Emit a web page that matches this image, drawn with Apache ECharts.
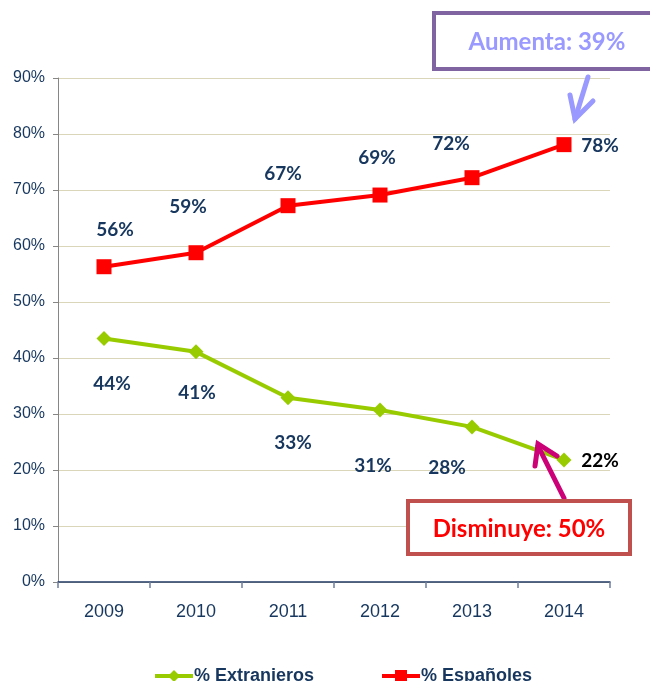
<!DOCTYPE html>
<html>
<head>
<meta charset="utf-8">
<title>Extranjeros / Españoles</title>
<script src="https://cdn.jsdelivr.net/npm/echarts@6/dist/echarts.min.js"></script>
<style>
  html, body { margin: 0; padding: 0; background: #fff; }
  #chart { width: 650px; height: 681px; }
</style>
</head>
<body>
<div id="chart"></div>
<script>
const years = ['2009', '2010', '2011', '2012', '2013', '2014'];
const extranjeros = [43.5, 41.1, 32.9, 30.7, 27.7, 21.8];
const espanoles = [56.3, 58.8, 67.2, 69.1, 72.2, 78.1];
const extranjerosLabels = ['44%', '41%', '33%', '31%', '28%', '22%'];
const espanolesLabels = ['56%', '59%', '67%', '69%', '72%', '78%'];
const yTicks = [0, 10, 20, 30, 40, 50, 60, 70, 80, 90];

// label offsets (px) relative to each marker
const extOffsets = [[8, 45], [1, 41], [5, 45], [-7, 56], [-25, 41], [36, 1]];
const espOffsets = [[11, -37], [-8, -46], [-5, -32], [-3, -37], [-21, -34], [36, 1]];

const navy = '#17375E';
const labelFont = { fontFamily: 'Lato, "Open Sans", sans-serif', fontWeight: 'bold', fontSize: 19 };
const legendText = {
  color: navy,
  fontFamily: '"Liberation Sans Narrow", "Liberation Sans", Arial, sans-serif',
  fontWeight: 'bold',
  fontSize: 18,
  padding: [0, 0, 0, -4]
};

const buildData = (values, offsets, lastColor) => values.map((v, i) => ({
  value: v,
  label: {
    offset: offsets[i],
    color: i === values.length - 1 ? lastColor : navy
  }
}));

const chart = echarts.init(document.getElementById('chart'), null, { renderer: 'canvas' });

const legendBase = {
  top: 662, itemWidth: 38, itemHeight: 15,
  lineStyle: { width: 4 },
  textStyle: legendText
};

const option = {
  animation: false,
  grid: { left: 58, right: 40, top: 78, bottom: 99 },
  legend: [
    { ...legendBase, left: 148, data: ['% Extranjeros'] },
    { ...legendBase, left: 375, data: ['% Españoles'] }
  ],
  xAxis: {
    type: 'category',
    data: years,
    boundaryGap: true,
    axisLine: { lineStyle: { color: '#1F3864', width: 1.5 } },
    axisTick: { show: true, length: 6, lineStyle: { color: '#6F7FA0', width: 1.5 } },
    axisLabel: {
      color: navy,
      fontFamily: '"Liberation Sans Narrow", "Liberation Sans", Arial, sans-serif',
      fontSize: 18,
      margin: 21
    },
    splitLine: { show: false }
  },
  yAxis: {
    type: 'value',
    min: yTicks[0],
    max: yTicks[yTicks.length - 1],
    interval: 10,
    axisLine: { show: true, lineStyle: { color: '#868686', width: 1 } },
    axisTick: { show: true, length: 5, lineStyle: { color: '#868686' } },
    axisLabel: {
      color: navy,
      fontFamily: '"Liberation Sans", Arial, sans-serif',
      fontSize: 16,
      margin: 13,
      formatter: '{value}%'
    },
    splitLine: { lineStyle: { color: '#DAD6B9', width: 1 } }
  },
  series: [
    {
      name: '% Extranjeros',
      type: 'line',
      data: buildData(extranjeros, extOffsets, '#000000'),
      symbol: 'diamond',
      symbolSize: 15,
      itemStyle: { color: '#99CC00' },
      lineStyle: { color: '#99CC00', width: 4 },
      label: {
        show: true,
        position: 'inside',
        formatter: p => extranjerosLabels[p.dataIndex],
        ...labelFont
      },
      z: 3
    },
    {
      name: '% Españoles',
      type: 'line',
      data: buildData(espanoles, espOffsets, navy),
      symbol: 'rect',
      symbolSize: 15,
      itemStyle: { color: '#FF0000' },
      lineStyle: { color: '#FF0000', width: 4 },
      label: {
        show: true,
        position: 'inside',
        formatter: p => espanolesLabels[p.dataIndex],
        ...labelFont
      },
      z: 3
    }
  ],
  graphic: [
    // "Aumenta" callout
    {
      type: 'rect',
      shape: { x: 434, y: 13, width: 222, height: 56 },
      style: { fill: '#fff', stroke: '#8064A2', lineWidth: 4 },
      z: 10
    },
    {
      type: 'text',
      x: 547, y: 42,
      style: {
        text: 'Aumenta: 39%', fill: '#9999FF', align: 'center', verticalAlign: 'middle',
        font: 'bold 24px Lato, "Open Sans", sans-serif'
      },
      z: 11
    },
    {
      type: 'polyline',
      shape: { points: [[588, 77], [575, 119]] },
      style: { stroke: '#9999FF', lineWidth: 5, lineCap: 'round' },
      z: 10
    },
    {
      type: 'polyline',
      shape: { points: [[570, 95], [575, 119], [593, 101]] },
      style: { stroke: '#9999FF', lineWidth: 5, lineCap: 'round', lineJoin: 'miter', fill: null },
      z: 10
    },
    // "Disminuye" callout
    {
      type: 'polyline',
      shape: { points: [[564, 498], [538, 446]] },
      style: { stroke: '#CC0077', lineWidth: 5, lineCap: 'round' },
      z: 10
    },
    {
      type: 'polyline',
      shape: { points: [[535, 466], [538, 444], [557, 456]] },
      style: { stroke: '#CC0077', lineWidth: 5, lineCap: 'round', lineJoin: 'miter', fill: null },
      z: 10
    },
    {
      type: 'rect',
      shape: { x: 408, y: 501, width: 222, height: 53 },
      style: { fill: '#fff', stroke: '#C0504D', lineWidth: 4 },
      z: 10
    },
    {
      type: 'text',
      x: 519, y: 529,
      style: {
        text: 'Disminuye: 50%', fill: '#FF0000', align: 'center', verticalAlign: 'middle',
        font: 'bold 24px Lato, "Open Sans", sans-serif'
      },
      z: 11
    }
  ]
};

chart.setOption(option);
window.addEventListener('resize', () => chart.resize());
</script>
</body>
</html>
